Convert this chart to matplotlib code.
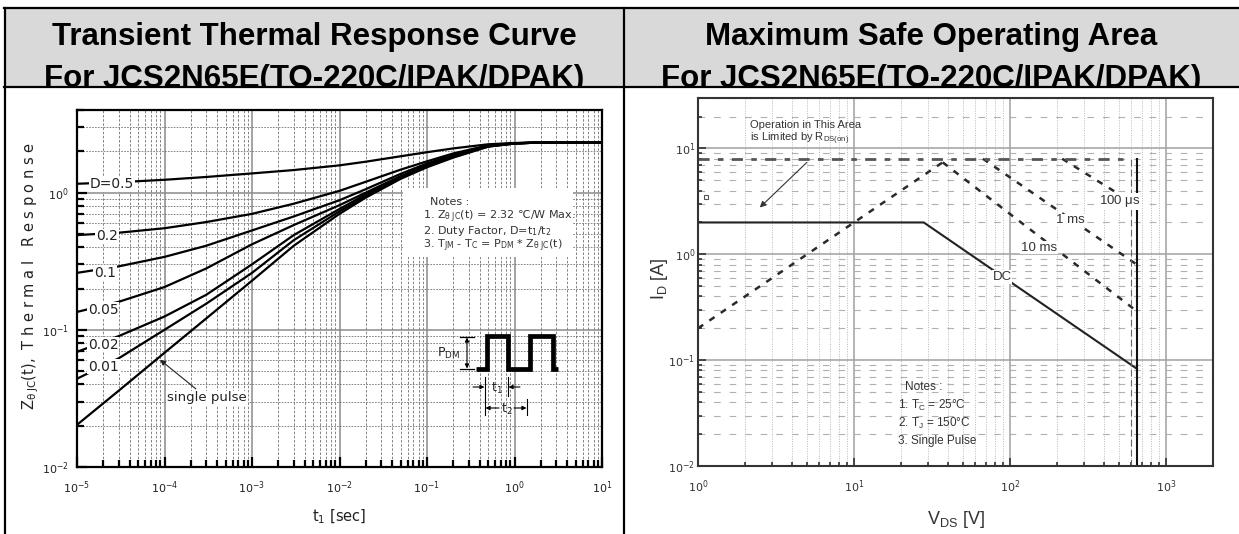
import matplotlib
matplotlib.use('Agg')
import matplotlib.pyplot as plt
from matplotlib.patches import Rectangle
from matplotlib.lines import Line2D
from matplotlib.ticker import LogLocator, NullFormatter

plt.rcParams['font.family'] = ['DejaVu Sans']
plt.rcParams['mathtext.fontset'] = 'custom'
plt.rcParams['mathtext.rm'] = 'Liberation Sans'
plt.rcParams['mathtext.it'] = 'Liberation Sans:italic'
plt.rcParams['mathtext.bf'] = 'Liberation Sans:bold'
plt.rcParams['mathtext.sf'] = 'Liberation Sans'
plt.rcParams['mathtext.default'] = 'regular'

# ---------------- data ----------------
header_titles = ['Transient Thermal Response Curve', 'Maximum Safe Operating Area']
header_sub = 'For JCS2N65E(TO-220C/IPAK/DPAK)'

# Transient thermal response (left)
t_sec = [1e-5, 3e-5, 1e-4, 3e-4, 1e-3, 3e-3, 1e-2, 2e-2, 5e-2, 1e-1, 2e-1, 5e-1, 1, 2, 10]
z_d050 = [1.16, 1.19, 1.24, 1.30, 1.38, 1.46, 1.58, 1.68, 1.84, 1.97, 2.10, 2.25, 2.30, 2.32, 2.32]
z_d020 = [0.49, 0.51, 0.55, 0.61, 0.70, 0.83, 1.03, 1.20, 1.47, 1.69, 1.93, 2.21, 2.29, 2.32, 2.32]
z_d010 = [0.26, 0.29, 0.34, 0.41, 0.53, 0.67, 0.88, 1.06, 1.37, 1.63, 1.89, 2.20, 2.29, 2.32, 2.32]
z_d005 = [0.135, 0.16, 0.205, 0.28, 0.42, 0.58, 0.81, 1.00, 1.32, 1.59, 1.86, 2.19, 2.28, 2.32, 2.32]
z_d002 = [0.069, 0.09, 0.125, 0.18, 0.30, 0.49, 0.76, 0.97, 1.30, 1.57, 1.84, 2.18, 2.28, 2.32, 2.32]
z_d001 = [0.044, 0.062, 0.10, 0.155, 0.26, 0.45, 0.73, 0.94, 1.28, 1.55, 1.82, 2.17, 2.28, 2.32, 2.32]
z_single = [0.0203, 0.036, 0.068, 0.121, 0.228, 0.41, 0.70, 0.92, 1.26, 1.53, 1.80, 2.16, 2.28, 2.32, 2.32]
duty_curves = [z_d050, z_d020, z_d010, z_d005, z_d002, z_d001, z_single]
duty_labels = ['D=0.5', '0.2', '0.1', '0.05', '0.02', '0.01']
duty_label_t = [2.5e-5, 2.2e-5, 2.1e-5, 2.0e-5, 2.0e-5, 2.0e-5]
duty_label_z = [1.15, 0.48, 0.26, 0.14, 0.078, 0.054]
left_xticks = [1e-5, 1e-4, 1e-3, 1e-2, 1e-1, 1, 10]
left_xticklabels = ['$10^{-5}$', '$10^{-4}$', '$10^{-3}$', '$10^{-2}$', '$10^{-1}$', '$10^{0}$', '$10^{1}$']
left_yticks = [1e-2, 1e-1, 1]
left_yticklabels = ['$10^{-2}$', '$10^{-1}$', '$10^{0}$']

# Safe operating area (right)
vds_dc = [1, 28, 650]
id_dc = [2.0, 2.0, 0.083]
vds_rds = [1, 37]
id_rds = [0.2, 7.4]
vds_10ms = [37, 650]
id_10ms = [7.4, 0.29]
vds_1ms = [67, 650]
id_1ms = [8.0, 0.80]
vds_100us = [216, 650]
id_100us = [8.0, 2.9]
vds_lim = [1, 600]
id_lim = [8.0, 8.0]
vds_bv_thin = [600, 600]
vds_bv = [650, 650]
id_bv = [0.01, 8.0]
soa_labels = ['100 $\\mu$s', '1 ms', '10 ms', 'DC']
soa_label_v = [508, 243, 154, 89]
soa_label_i = [3.16, 2.09, 1.16, 0.607]
right_xticks = [1, 10, 100, 1000]
right_xticklabels = ['$10^{0}$', '$10^{1}$', '$10^{2}$', '$10^{3}$']
right_yticks = [1e-2, 1e-1, 1, 10]
right_yticklabels = ['$10^{-2}$', '$10^{-1}$', '$10^{0}$', '$10^{1}$']

# ---------------- figure / table ----------------
W, H = 1239, 534
fig = plt.figure(figsize=(W / 100, H / 100), dpi=100)
fig.patch.set_facecolor('white')


def fx(px):
    return px / W


def fy(py):
    return 1 - py / H


fig.add_artist(Rectangle((fx(5), fy(87)), fx(1239) - fx(5), fy(9) - fy(87),
                         transform=fig.transFigure, facecolor='#d9d9d9',
                         edgecolor='none', zorder=0.1))
for cx, title in zip([314.5, 931], header_titles):
    fig.text(fx(cx), fy(45), title, ha='center', va='baseline', fontsize=22.5,
             fontweight='bold', family='Liberation Sans', zorder=0.2)
    fig.text(fx(cx), fy(87), header_sub, ha='center', va='baseline', fontsize=22.5,
             fontweight='bold', family='Liberation Sans', zorder=0.2)
fig.add_artist(Rectangle((fx(5), 0), fx(1239) - fx(5), fy(88),
                         transform=fig.transFigure, facecolor='white',
                         edgecolor='none', zorder=0.3))
tbl_kw = dict(transform=fig.transFigure, color='black', lw=1.6, zorder=0.4)
fig.add_artist(Line2D([fx(4), fx(1239)], [fy(8), fy(8)], **tbl_kw))
fig.add_artist(Line2D([fx(4), fx(1239)], [fy(87), fy(87)], **tbl_kw))
fig.add_artist(Line2D([fx(5), fx(5)], [fy(8), fy(534)], **tbl_kw))
fig.add_artist(Line2D([fx(624), fx(624)], [fy(8), fy(534)], **tbl_kw))

# ---------------- left chart ----------------
ax1 = fig.add_axes([fx(77), fy(467), (602 - 77) / W, (467 - 110) / H])
ax1.set_zorder(2)
ax1.set_xscale('log')
ax1.set_yscale('log')
ax1.set_xlim(1e-5, 10)
ax1.set_ylim(1e-2, 4)
ax1.xaxis.set_minor_locator(LogLocator(base=10, subs=range(2, 10), numticks=20))
ax1.yaxis.set_minor_locator(LogLocator(base=10, subs=range(2, 10), numticks=20))
ax1.xaxis.set_minor_formatter(NullFormatter())
ax1.yaxis.set_minor_formatter(NullFormatter())
ax1.set_xticks(left_xticks, left_xticklabels)
ax1.set_yticks(left_yticks, left_yticklabels)
ax1.tick_params(which='both', direction='in', top=False, right=False,
                colors='black', labelcolor='#222', labelsize=8)
ax1.tick_params(which='major', length=7, width=1.6)
ax1.tick_params(which='minor', length=5, width=1.6)
ax1.tick_params(axis='x', pad=9)
ax1.tick_params(axis='y', pad=6)
ax1.grid(which='major', color='#8a8a8a', lw=1.1)
ax1.grid(which='minor', axis='x', color='#707070', lw=0.6, ls=(0, (3, 2)))
ax1.grid(which='minor', axis='y', color='#707070', lw=0.6, ls=(0, (2, 1.5)))
for sp in ax1.spines.values():
    sp.set_linewidth(1.6)
    sp.set_color('black')

for z in duty_curves:
    ax1.plot(t_sec, z, color='black', lw=1.6, solid_capstyle='butt',
             solid_joinstyle='round')
for lab, lt, lz in zip(duty_labels, duty_label_t, duty_label_z):
    ax1.text(lt, lz, lab, ha='center', va='center', fontsize=10, color='#222',
             bbox=dict(facecolor='white', edgecolor='none', pad=0.6))
ax1.annotate('single pulse', xy=(8.9e-5, 0.0604), xytext=(3.06e-4, 0.0319),
             ha='center', va='center', fontsize=9.5, color='#222',
             bbox=dict(facecolor='white', edgecolor='none', pad=0.6),
             arrowprops=dict(arrowstyle='-|>', color='#222', lw=0.8,
                             mutation_scale=8, shrinkA=2, shrinkB=0))

# notes box
ax1.add_patch(Rectangle((0.621, 0.588), 0.324, 0.194, transform=ax1.transAxes,
                        facecolor='white', edgecolor='none', zorder=1.8))
notes_left = ['Notes :',
              '1. Z$_{\\theta\\ JC}$(t) = 2.32 \u2103/W Max.',
              '2. Duty Factor, D=t$_1$/t$_2$',
              '3. T$_{JM}$ - T$_C$ = P$_{DM}$ * Z$_{\\theta\\ JC}$(t)']
notes_left_y = [0.742, 0.700, 0.661, 0.619]
for i, (s, yy) in enumerate(zip(notes_left, notes_left_y)):
    ax1.text(0.672 if i == 0 else 0.659, yy, s, transform=ax1.transAxes,
             ha='left', va='center', fontsize=8, color='#333', zorder=3)

ax1.text(-0.0876, 0.535,
         'Z$_{\\theta\\ JC}$(t),  T h e r m a l   R e s p o n s e',
         transform=ax1.transAxes, rotation=90, ha='center', va='center',
         fontsize=10.5, color='#222')
ax1.text(0.5, -0.14, 't$_1$ [sec]', transform=ax1.transAxes, ha='center',
         va='center', fontsize=10.5, color='#222')

# pulse schematic (inset, in its own pixel-like units)
axp = fig.add_axes([fx(430), fy(425), 140 / W, 100 / H])
axp.set_zorder(3)
axp.set_xlim(430, 570)
axp.set_ylim(425, 325)
axp.axis('off')
pulse_x = [476, 487, 487, 508, 508, 530, 530, 553, 553, 558]
pulse_y = [369, 369, 336, 336, 369, 369, 336, 336, 369, 369]
axp.plot(pulse_x, pulse_y, color='black', lw=3.4, solid_joinstyle='miter',
         solid_capstyle='butt')
axp.text(449, 353, 'P$_{DM}$', ha='center', va='center', fontsize=9, color='#222')
axp.plot([460, 474], [337, 337], color='black', lw=0.9)
axp.plot([460, 474], [369, 369], color='black', lw=0.9)
axp.annotate('', xy=(467, 337.5), xytext=(467, 368.5),
             arrowprops=dict(arrowstyle='<|-|>', color='black', lw=0.8,
                             mutation_scale=6, shrinkA=0, shrinkB=0))
axp.plot([485, 485], [377, 415], color='black', lw=0.8)
axp.plot([508, 508], [377, 396], color='black', lw=0.8)
axp.plot([527, 527], [399, 415], color='black', lw=0.8)
axp.annotate('', xy=(484.5, 387), xytext=(473, 387),
             arrowprops=dict(arrowstyle='-|>', color='black', lw=0.8,
                             mutation_scale=6, shrinkA=0, shrinkB=0))
axp.annotate('', xy=(508.5, 387), xytext=(520, 387),
             arrowprops=dict(arrowstyle='-|>', color='black', lw=0.8,
                             mutation_scale=6, shrinkA=0, shrinkB=0))
axp.text(497, 388, 't$_1$', ha='center', va='center', fontsize=9, color='#222')
axp.annotate('', xy=(485.5, 408), xytext=(499, 408),
             arrowprops=dict(arrowstyle='-|>', color='black', lw=0.8,
                             mutation_scale=6, shrinkA=0, shrinkB=0))
axp.annotate('', xy=(526.5, 408), xytext=(514, 408),
             arrowprops=dict(arrowstyle='-|>', color='black', lw=0.8,
                             mutation_scale=6, shrinkA=0, shrinkB=0))
axp.text(507, 409, 't$_2$', ha='center', va='center', fontsize=9, color='#222')

# ---------------- right chart ----------------
ax2 = fig.add_axes([fx(698), fy(466), (1213 - 698) / W, (466 - 98) / H])
ax2.set_zorder(2)
ax2.set_xscale('log')
ax2.set_yscale('log')
ax2.set_xlim(1, 2000)
ax2.set_ylim(1e-2, 30)
ax2.xaxis.set_minor_locator(LogLocator(base=10, subs=range(2, 10), numticks=20))
ax2.yaxis.set_minor_locator(LogLocator(base=10, subs=range(2, 10), numticks=20))
ax2.xaxis.set_minor_formatter(NullFormatter())
ax2.yaxis.set_minor_formatter(NullFormatter())
ax2.set_xticks(right_xticks, right_xticklabels)
ax2.set_yticks(right_yticks, right_yticklabels)
ax2.tick_params(which='both', direction='in', top=False, right=False,
                colors='#333', labelcolor='#333', labelsize=8)
ax2.tick_params(which='major', length=6, width=1.2)
ax2.tick_params(which='minor', length=3, width=1.2)
ax2.tick_params(axis='x', pad=9)
ax2.tick_params(axis='y', pad=2)
ax2.grid(which='major', color='#a0a0a0', lw=1.1)
ax2.grid(which='minor', axis='y', color='#b0b0b0', lw=0.8, ls=(0, (6, 8)))
ax2.grid(which='minor', axis='x', color='#b8b8b8', lw=0.7, ls=(0, (1, 1.5)))
for sp in ax2.spines.values():
    sp.set_linewidth(1.5)
    sp.set_color('#333')

dash_kw = dict(color='#2a2a2a', lw=1.8, ls=(0, (2.5, 3)))
ax2.plot(vds_rds, id_rds, **dash_kw)
ax2.plot(vds_10ms, id_10ms, **dash_kw)
ax2.plot(vds_1ms, id_1ms, **dash_kw)
ax2.plot(vds_100us, id_100us, **dash_kw)
ax2.plot(vds_lim, id_lim, color='#555', lw=2.0, ls=(0, (4, 3, 2, 3)))
ax2.plot(vds_dc, id_dc, color='#222', lw=1.5)
ax2.plot(vds_bv_thin, id_bv, color='#666', lw=0.8, ls=(0, (6, 3)))
ax2.plot(vds_bv, id_bv, color='#111', lw=1.5)
ax2.plot([1.125], [3.5], marker='s', ms=3, mfc='white', mec='#555', mew=0.8)
for lab, lv, li in zip(soa_labels, soa_label_v, soa_label_i):
    ax2.text(lv, li, lab, ha='center', va='center', fontsize=9.5,
             family='Liberation Sans', color='#333',
             bbox=dict(facecolor='white', edgecolor='none', pad=0.6))
ax2.text(0.101, 0.927, 'Operation in This Area', transform=ax2.transAxes,
         ha='left', va='center', fontsize=8, family='Liberation Sans', color='#333')
ax2.text(0.101, 0.889, 'is Limited by R$_{DS(on)}$', transform=ax2.transAxes,
         ha='left', va='center', fontsize=8, family='Liberation Sans', color='#333')
ax2.annotate('', xy=(2.49, 2.77), xytext=(4.98, 7.38),
             arrowprops=dict(arrowstyle='-|>', color='#333', lw=0.8,
                             mutation_scale=9, shrinkA=0, shrinkB=0))
notes_right = ['Notes :', '1. T$_C$ = 25\u00b0C', '2. T$_J$ = 150\u00b0C', '3. Single Pulse']
notes_right_px = [905, 898, 898, 898]
notes_right_py = [387, 405, 423, 441]
for s, px, py in zip(notes_right, notes_right_px, notes_right_py):
    ax2.text((px - 698) / 515, (466 - py) / 368, s, transform=ax2.transAxes,
             ha='left', va='center', fontsize=8.5, family='Liberation Sans',
             color='#333')

ax2.text(-0.075, 0.51, 'I$_D$ [A]', transform=ax2.transAxes, rotation=90,
         ha='center', va='center', fontsize=13, family='Liberation Sans', color='#333')
ax2.text(0.5, -0.146, 'V$_{DS}$ [V]', transform=ax2.transAxes, ha='center',
         va='center', fontsize=13, family='Liberation Sans', color='#333')

fig.savefig('out.png', dpi=100, facecolor='white')
